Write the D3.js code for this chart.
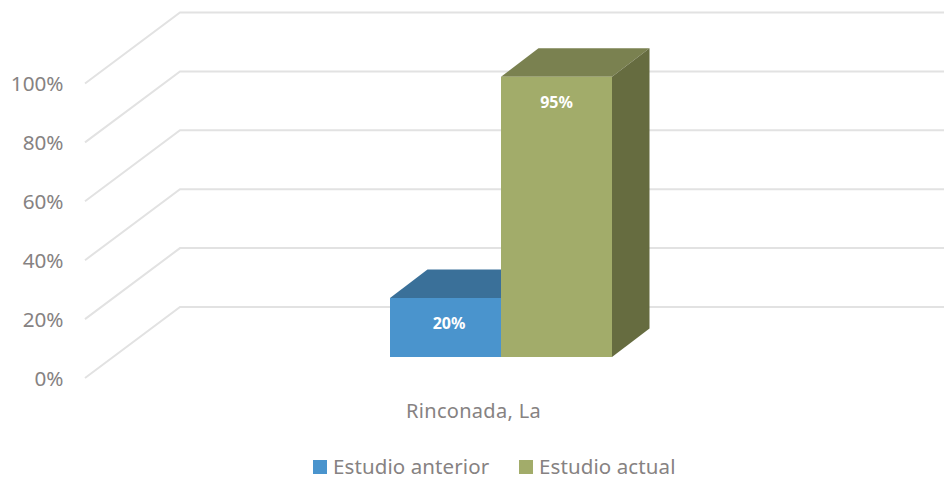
<!DOCTYPE html>
<html>
<head>
<meta charset="utf-8">
<script src="https://cdn.jsdelivr.net/npm/d3@7.9.0/dist/d3.min.js"></script>
<style>
  html, body { margin: 0; padding: 0; background: #fff; }
  svg { display: block; }
  text { font-family: "Noto Sans", "Open Sans", sans-serif; }
</style>
</head>
<body>
<svg id="chart" width="944" height="477"></svg>
<script>
const categories = ['Rinconada, La'];
const seriesNames = ['Estudio anterior', 'Estudio actual'];
const seriesValues = [20, 95];
const seriesColors = ['#4a94cd', '#a2ac6a'];
const topColors = ['#3a7099', '#7a8150'];
const sideColors = ['#2f5d80', '#666c40'];
const yTicks = [0, 20, 40, 60, 80, 100];

const svg = d3.select('#chart');

// front edge of the floor, and how far the back wall is shifted from it
const yAxisScale = d3.scaleLinear().domain([0, 100]).range([378, 83.5]);
const wallDx = 95;
const wallDy = -71;

// bars stand partway into the box, so they get their own baseline
const yBar = d3.scaleLinear().domain([0, 100]).range([357, 62]);
const xCat = d3.scaleBand().domain(categories).range([390, 612]);
const xSeries = d3.scaleBand().domain(seriesNames).range([0, xCat.bandwidth()]);
const barDx = 37.5;
const barDy = -28.5;
const labelShift = [3.5, 0];

// Gridlines on the side wall and back wall
svg.append('g').selectAll('path')
  .data(yTicks)
  .enter()
  .append('path')
  .attr('d', (d) => {
    let y = yAxisScale(d);
    return `M85,${y}L${85 + wallDx},${y + wallDy}L944,${y + wallDy}`;
  })
  .attr('fill', 'none')
  .attr('stroke', '#e2e2e2')
  .attr('stroke-width', 2);

// Tick labels
svg.append('g').selectAll('text')
  .data(yTicks)
  .enter()
  .append('text')
  .attr('x', 63.5)
  .attr('y', (d) => yAxisScale(d) + 7.5)
  .attr('text-anchor', 'end')
  .attr('font-size', 20.7)
  .attr('fill', '#868282')
  .text((d) => `${d}%`);

// Bars: each one is a front face plus a top and a side
const bars = seriesNames.map((name, i) => ({
  name: name,
  value: seriesValues[i],
  front: seriesColors[i],
  top: topColors[i],
  side: sideColors[i],
  shift: labelShift[i],
  x0: xCat(categories[0]) + xSeries(name),
  x1: xCat(categories[0]) + xSeries(name) + xSeries.bandwidth(),
}));

let barGroups = svg.append('g').selectAll('g')
  .data(bars)
  .enter()
  .append('g');

barGroups.append('path')
  .attr('d', (d) => {
    let y = yBar(d.value);
    return `M${d.x0},${y}L${d.x0 + barDx},${y + barDy}L${d.x1 + barDx},${y + barDy}L${d.x1},${y}Z`;
  })
  .attr('fill', (d) => d.top);

barGroups.append('path')
  .attr('d', (d) => {
    let y = yBar(d.value);
    let y0 = yBar(0);
    return `M${d.x1},${y}L${d.x1 + barDx},${y + barDy}L${d.x1 + barDx},${y0 + barDy}L${d.x1},${y0}Z`;
  })
  .attr('fill', (d) => d.side);

barGroups.append('rect')
  .attr('x', (d) => d.x0)
  .attr('y', (d) => yBar(d.value))
  .attr('width', (d) => d.x1 - d.x0)
  .attr('height', (d) => yBar(0) - yBar(d.value))
  .attr('fill', (d) => d.front);

barGroups.append('text')
  .attr('x', (d) => (d.x0 + d.x1) / 2 + d.shift)
  .attr('y', (d) => yBar(d.value) + 31)
  .attr('text-anchor', 'middle')
  .attr('font-size', 16)
  .attr('font-weight', 700)
  .attr('fill', '#fff')
  .text((d) => `${d.value}%`);

// Category label
svg.append('text')
  .attr('x', 473.5)
  .attr('y', 418)
  .attr('text-anchor', 'middle')
  .attr('font-size', 20)
  .attr('letter-spacing', 0.3)
  .attr('fill', '#868282')
  .text(categories[0]);

// Legend
const legendX = [313, 519];
let legend = svg.append('g').selectAll('g')
  .data(seriesNames)
  .enter()
  .append('g')
  .attr('transform', (d, i) => `translate(${legendX[i]},460)`);

legend.append('rect')
  .attr('width', 14)
  .attr('height', 14)
  .attr('fill', (d, i) => seriesColors[i]);

legend.append('text')
  .attr('x', 20)
  .attr('y', 13.5)
  .attr('font-size', 20.5)
  .attr('letter-spacing', 0.1)
  .attr('fill', '#868282')
  .text((d) => d);
</script>
</body>
</html>
